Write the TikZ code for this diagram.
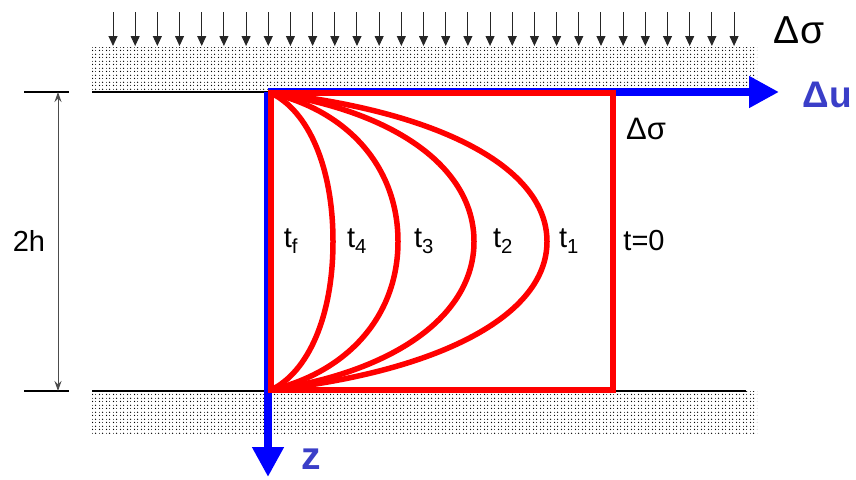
\documentclass[tikz,border=0pt]{standalone}
\usepackage{fontspec}
\setmainfont{Liberation Sans}
\definecolor{AxisBlue}{RGB}{0, 0, 255}
\definecolor{LabelBlue}{RGB}{58, 62, 200}
\definecolor{IsoRed}{RGB}{255, 0, 0}
\usepackage{tikz}
\usetikzlibrary{arrows.meta, patterns, positioning}
\pgfdeclarepatternformonly{soildots}{\pgfpointorigin}{\pgfpoint{7pt}{7pt}}{\pgfpoint{7pt}{7pt}}{
    \pgfpathcircle{\pgfpoint{1.75pt}{1.75pt}}{0.8pt}
    \pgfpathcircle{\pgfpoint{5.25pt}{5.25pt}}{0.8pt}
    \pgfpathcircle{\pgfpoint{5.25pt}{1.75pt}}{0.5pt}
    \pgfpathcircle{\pgfpoint{1.75pt}{5.25pt}}{0.5pt}
    \pgfusepath{fill}}

\begin{document}
\begin{tikzpicture}[x=1pt, y=-1pt, >=Stealth,
    soil/.style={pattern=soildots, pattern color=black},
    load/.style={-{Triangle[length=10pt, width=9pt]}, line width=1pt, black!85},
    axis/.style={AxisBlue, line width=7.5pt, -{Triangle[length=30pt, width=30pt]}},
    iso/.style={IsoRed, line width=5.5pt},
    lbl/.style={font=\fontsize{29}{32}\selectfont, inner sep=0pt}]
    \useasboundingbox (0,0) rectangle (856,479);
    % soil layers
    \fill[soil] (92,47) rectangle (757,92);
    \fill[soil] (92,391) rectangle (757,433);
    \draw[line width=1.3pt] (92,92) -- (268,92);
    \draw[line width=1.3pt] (92,391) -- (746,391);
    % applied load
    \foreach \i in {0,...,28}
        \draw[load] (113+22.18*\i,12) -- (113+22.18*\i,46);
    \node[lbl, font=\fontsize{39}{42}\selectfont] (load) at (799,30) {Δσ};
    % layer thickness
    \draw[line width=1.3pt] (24,92) -- (69,92);
    \draw[line width=1.3pt] (24,391) -- (69,391);
    \coordinate (dtop) at (58,92);
    \coordinate (dbot) at (58,391);
    \draw[black!70, line width=1pt, {Stealth[length=10pt, width=7pt]}-{Stealth[length=10pt, width=7pt]}] (dtop) -- (dbot);
    \node[lbl] (h) at (29,241) {2h};
    % axes
    \coordinate (o) at (268,92);
    \coordinate (uend) at (779,92);
    \coordinate (zend) at (268,477);
    \draw[axis] (o) -- (uend);
    \draw[axis] (o) -- (zend);
    \node[lbl, LabelBlue, font=\bfseries\fontsize{37}{40}\selectfont] (du) at (827,95) {Δu};
    \node[lbl, LabelBlue, font=\bfseries\fontsize{39}{42}\selectfont] (z) at (311,459) {z};
    % excess pore pressure isochrones
    \coordinate (tl) at (271,93);
    \coordinate (bl) at (271,390);
    \draw[iso] (tl) rectangle (613,390);
    \foreach \a in {62,127,203,276}
        \draw[iso] (tl) .. controls +(0.6*\a,18) and +(0,-75) .. (271+\a,241.5)
            .. controls +(0,75) and +(0.6*\a,-18) .. (bl);
    \node[lbl, font=\fontsize{31}{34}\selectfont] (init) at (646,129) {Δσ};
    \node[lbl] (tf) at (291,241) {t\textsubscript{f}};
    \node[lbl] (t4) at (357,241) {t\textsubscript{4}};
    \node[lbl] (t3) at (424,241) {t\textsubscript{3}};
    \node[lbl] (t2) at (503,241) {t\textsubscript{2}};
    \node[lbl] (t1) at (569,241) {t\textsubscript{1}};
    \node[lbl] (t0) at (644,241) {t=0};
\end{tikzpicture}
\end{document}
